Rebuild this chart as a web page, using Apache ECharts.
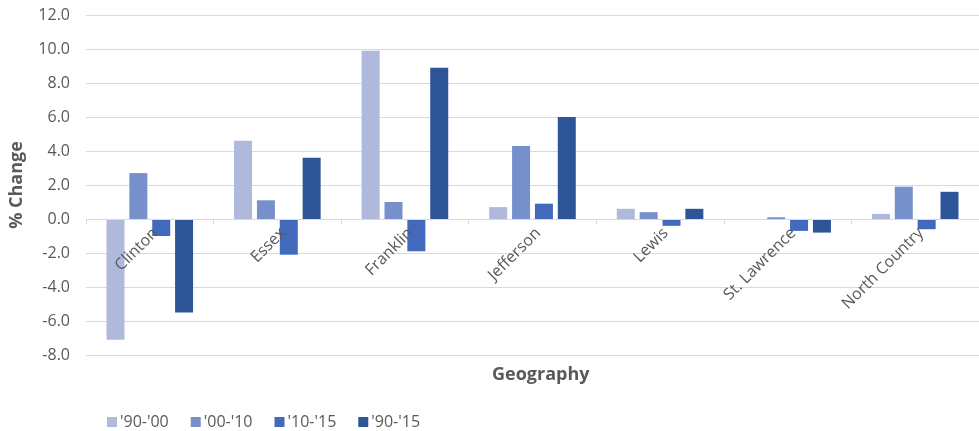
<!DOCTYPE html>
<html>
<head>
<meta charset="utf-8">
<script src="https://cdn.jsdelivr.net/npm/echarts@6/dist/echarts.min.js"></script>
<style>html,body{margin:0;padding:0;background:#fff;}#c{width:979px;height:431px;}</style>
</head>
<body>
<div id="c"></div>
<script>
const categories = ['Clinton', 'Essex', 'Franklin', 'Jefferson', 'Lewis', 'St. Lawrence', 'North Country'];
const seriesNames = ["'90-'00", "'00-'10", "'10-'15", "'90-'15"];
const s9000 = [-7.1, 4.6, 9.9, 0.7, 0.6, 0.0, 0.3];
const s0010 = [2.7, 1.1, 1.0, 4.3, 0.4, 0.1, 1.9];
const s1015 = [-1.0, -2.1, -1.9, 0.9, -0.4, -0.7, -0.6];
const s9015 = [-5.5, 3.6, 8.9, 6.0, 0.6, -0.8, 1.6];
const yTicks = { min: -8, max: 12, step: 2 };
const colors = ['#AEB9DC', '#7690CB', '#4169BC', '#2E5597'];

const font = 'Open Sans';
const gridTop = 15, gridBottom = 76, H = 431;
const plotH = H - gridTop - gridBottom;
const zeroOffset = plotH * (0 - yTicks.min) / (yTicks.max - yTicks.min);
const chart = echarts.init(document.getElementById('c'));
const seriesData = [s9000, s0010, s1015, s9015];
chart.setOption({
  animation: false,
  textStyle: { fontFamily: font },
  title: {
    text: 'Geography', left: 487, top: 361,
    textStyle: { fontFamily: font, fontSize: 18, fontWeight: 'bold', color: '#595959' }
  },
  legend: {
    left: 102, top: 409, itemWidth: 10, itemHeight: 10, itemGap: 22,
    icon: 'rect',
    textStyle: { fontFamily: font, fontSize: 16, color: '#595959', padding: [0, 0, 0, -2] },
    data: seriesNames
  },
  grid: { left: 86, right: -3, top: gridTop, bottom: gridBottom, containLabel: false },
  xAxis: {
    type: 'category', data: categories,
    offset: -zeroOffset, z: 10,
    axisLine: { onZero: false, lineStyle: { color: '#D9D9D9' } },
    axisTick: { show: true, length: 5, lineStyle: { color: '#D9D9D9' } },
    axisLabel: { rotate: 45, margin: 6, verticalAlign: 'top', fontFamily: font, fontSize: 16, color: '#595959' }
  },
  yAxis: {
    type: 'value', min: yTicks.min, max: yTicks.max, interval: yTicks.step,
    name: '% Change', nameLocation: 'middle', nameGap: 60,
    nameTextStyle: { fontFamily: font, fontSize: 18, fontWeight: 'bold', color: '#595959' },
    axisLine: { show: false }, axisTick: { show: false },
    axisLabel: { margin: 16, fontFamily: font, fontSize: 16, color: '#595959', formatter: v => v.toFixed(1) },
    splitLine: { lineStyle: { color: '#D9D9D9' } }
  },
  series: seriesNames.map((n, i) => ({
    name: n, type: 'bar', data: seriesData[i], barWidth: 18, barGap: '27%', z: 2,
    itemStyle: { color: colors[i] }
  }))
});
</script>
</body>
</html>
